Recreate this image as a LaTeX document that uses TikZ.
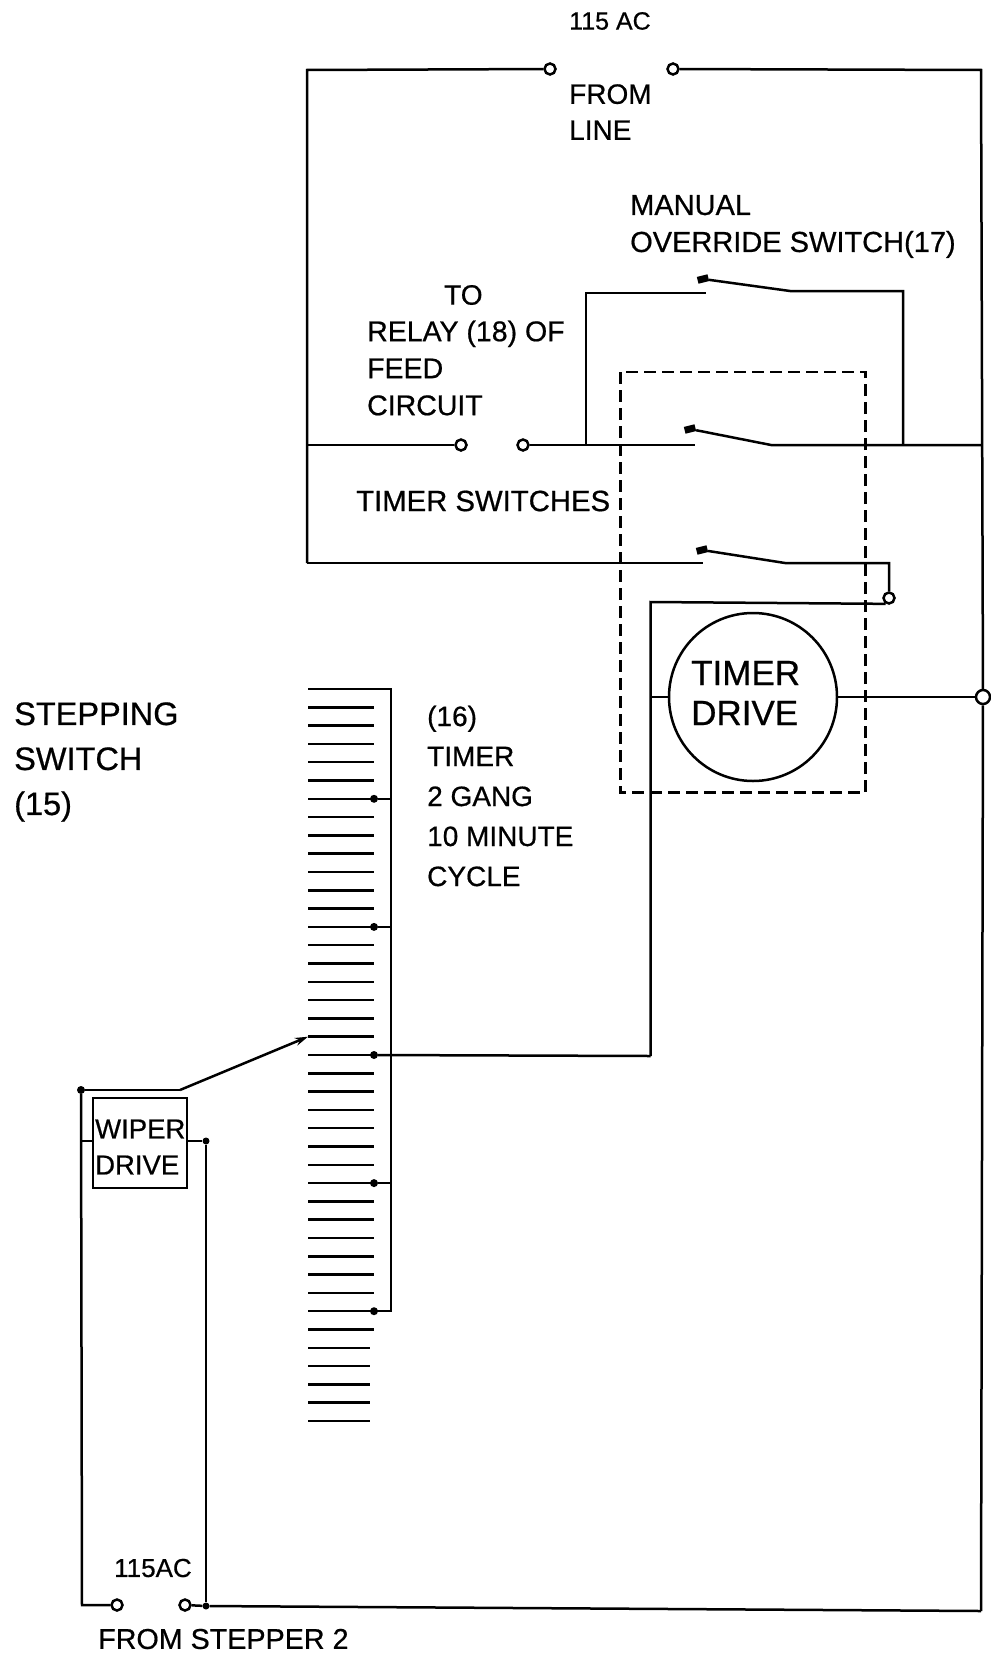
\documentclass[tikz,border=0pt]{standalone}
\usepackage{fontspec}
\setmainfont[FakeBold=0.6]{Liberation Sans}
\usetikzlibrary{arrows.meta}
\tikzset{
    wire/.style={line width=2.5pt},
    term/.style={circle,draw,line width=2.5pt,fill=white,inner sep=0pt,minimum size=11pt},
    tap/.style={circle,fill=black,inner sep=0pt,minimum size=8pt},
    blob/.style={rectangle,fill=black,inner sep=0pt,minimum width=11pt,minimum height=7pt},
    lbl/.style={anchor=west,inner sep=0pt,align=left,font=\fontsize{29}{37}\selectfont}
}
\begin{document}
\begin{tikzpicture}[x=1pt,y=-1pt]
    \useasboundingbox (0,0) rectangle (990,1656);
    %\draw[loosely dotted] (0,0) grid[step=100] (990,1656);
    \coordinate (tl) at (307,70);
    \coordinate (ml) at (307,445);
    \coordinate (bl) at (307,563);
    \coordinate (tr) at (981,70);
    \coordinate (mr) at (981,445);
    \coordinate (br) at (981,1611);
    \node[term] (lineL) at (550,69) {};
    \node[term] (lineR) at (673,69) {};
    \node[term] (feedL) at (461,445) {};
    \node[term] (feedR) at (523,445) {};
    \node[term] (relay) at (889,598) {};
    \node[term,minimum size=14pt] (outR) at (983,697) {};
    \node[term] (stepL) at (117,1605) {};
    \node[term] (stepR) at (185,1605) {};
    \draw[wire] (lineL) -- (tl) -- (bl);
    \draw[wire] (lineR) -- (tr) -- (outR) -- (br);
    \draw[wire] (ml) -- (feedL);

    % the three switches
    \node[blob,rotate=14] (swA) at (703,279) {};
    \node[blob,rotate=14] (swB) at (690,429) {};
    \node[blob,rotate=14] (swC) at (702,550) {};
    \coordinate (swAend) at (790,291);
    \coordinate (swBend) at (771,445);
    \coordinate (swCend) at (785,563);
    \coordinate (ovrL) at (586,445);
    \coordinate (ovrR) at (903,445);
    \draw[wire] (feedR) -- (695,445);
    \draw[wire] (swB) -- (swBend) -- (mr);
    \draw[wire] (ovrL) -- (586,293) -- (706,293);
    \draw[wire] (swA) -- (swAend) -- (ovrR |- swAend) -- (ovrR);
    \draw[wire] (bl) -- (703,563);
    \draw[wire] (swC) -- (swCend) -- (889,563) -- (relay);
    \draw[line width=2.2pt,dash pattern=on 12pt off 6pt] (620.5,372) rectangle (865.5,792.5);

    % timer motor
    \node[circle,draw,line width=2.5pt,minimum size=168pt,inner sep=0pt] (drive) at (753,697) {};
    \node[lbl,font=\fontsize{35}{40}\selectfont] (driveText) at (691,693) {TIMER\\DRIVE};
    \draw[wire] (relay.-120) -- (650.5,602) -- (650.5,1056);
    \draw[wire] (650.5,697) -- (drive.west);
    \draw[wire] (drive.east) -- (outR);

    % stepper bank
    \foreach \n in {0,...,35}
    \draw[wire] (308,689+\n*18.3) coordinate (bar\n) -- ++(66,0) coordinate (pin\n);
    \foreach \n in {36,...,40}
    \draw[wire] (308,689+\n*18.3) coordinate (bar\n) -- ++(62,0) coordinate (pin\n);
    \coordinate (busT) at (391,689);
    \draw[wire] (pin0) -- (busT) -- (busT |- pin34) -- (pin34);
    \foreach \n in {6,13,20,27,34} {
        \node[tap] (tap\n) at (pin\n) {};
        \draw[wire] (tap\n) -- (tap\n -| busT);
    }
    \draw[wire] (tap20) -- (650.5,1056);

    % wiper
    \node[draw,line width=2.5pt,minimum width=94pt,minimum height=90pt,inner sep=0pt] (wiper) at (140,1143) {};
    \node[lbl,font=\fontsize{27.5}{36}\selectfont] (wiperText) at (95,1147) {WIPER\\DRIVE};
    \node[tap] (wipT) at (81,1090) {};
    \node[tap,minimum size=7pt] (wipR) at (206,1141) {};
    \node[tap,minimum size=7pt] (wipB) at (206,1606) {};
    \coordinate (wipE) at (180,1090);
    \coordinate (wipL) at (82,1141);
    \draw[wire] (wipT) -- (wipE);
    \draw[wire,-{Stealth[length=13pt,width=8pt]}] (wipE) -- (bar19);
    \draw[wire] (wipT) -- (82,1605) -- (stepL);
    \draw[wire] (wipL) -- (wipL -| wiper.west);
    \draw[wire] (wipR -| wiper.east) -- (wipR) -- (wipB);
    \draw[wire] (stepR) -- (wipB) -- (br);

    % labels
    \node[lbl,font=\fontsize{25}{30}\selectfont] (acTop) at (569,21) {115 AC};
    \node[lbl,font=\fontsize{28}{36}\selectfont] (fromLine) at (569,112) {FROM\\LINE};
    \node[lbl] (manual) at (630,226.5) {MANUAL\\OVERRIDE SWITCH(17)};
    \node[lbl,font=\fontsize{28}{36}\selectfont] (relayTo) at (444,295) {TO};
    \node[lbl,font=\fontsize{28.5}{37}\selectfont] (relayText) at (367,368) {RELAY (18) OF\\FEED\\CIRCUIT};
    \node[lbl,font=\fontsize{29.3}{34}\selectfont] (timerSw) at (356,501) {TIMER SWITCHES};
    \node[lbl,font=\fontsize{32.5}{45}\selectfont] (stepping) at (14,762) {STEPPING\\SWITCH\\(15)};
    \node[lbl,font=\fontsize{28}{40}\selectfont] (timerText) at (427,796) {(16)\\TIMER\\2 GANG\\10 MINUTE\\CYCLE};
    \node[lbl,font=\fontsize{26}{30}\selectfont] (acBot) at (114,1568) {115AC};
    \node[lbl,font=\fontsize{28.7}{32}\selectfont] (fromStep) at (98,1639) {FROM STEPPER 2};
\end{tikzpicture}
\end{document}
